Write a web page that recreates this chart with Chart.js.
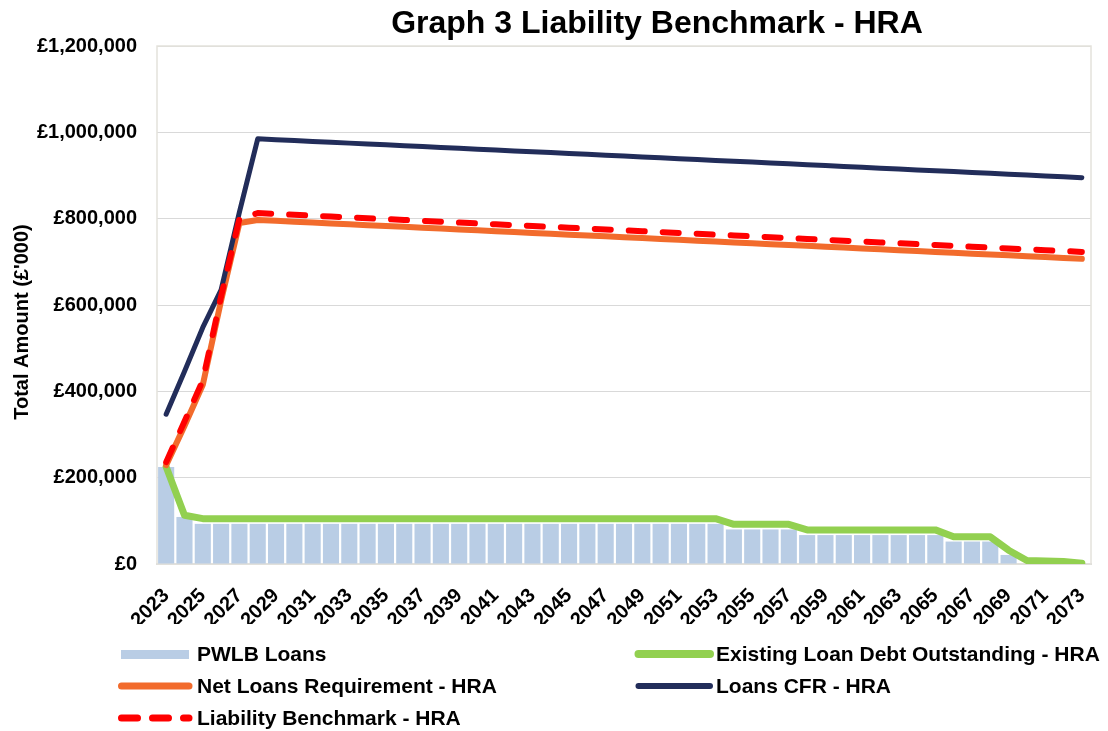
<!DOCTYPE html>
<html>
<head>
<meta charset="utf-8">
<script src="https://cdn.jsdelivr.net/npm/chart.js@4.4.1/dist/chart.umd.min.js"></script>
<style>
  body { margin: 0; background: #fff; }
  #wrap { position: relative; width: 1108px; height: 731px; }
  #chart { position: absolute; left: 0; top: 0; }
  .legText { position: absolute; font: bold 21px "Liberation Sans", Arial, sans-serif; color: #000; white-space: nowrap; line-height: 24px; }
  .legSym { position: absolute; }
</style>
</head>
<body>
<div id="wrap">
  <canvas id="chart" width="1108" height="731"></canvas>
  <div id="legend"></div>
</div>
<script>
const FONT = '"Liberation Sans", Arial, sans-serif';

const years = [
  "2023", "2024", "2025", "2026", "2027", "2028", "2029", "2030", "2031", "2032",
  "2033", "2034", "2035", "2036", "2037", "2038", "2039", "2040", "2041", "2042",
  "2043", "2044", "2045", "2046", "2047", "2048", "2049", "2050", "2051", "2052",
  "2053", "2054", "2055", "2056", "2057", "2058", "2059", "2060", "2061", "2062",
  "2063", "2064", "2065", "2066", "2067", "2068", "2069", "2070", "2071", "2072",
  "2073",
];

const pwlbLoans = [
  225000, 109000, 93000, 93000, 93000, 93000, 93000, 93000, 93000, 93000,
  93000, 93000, 93000, 93000, 93000, 93000, 93000, 93000, 93000, 93000,
  93000, 93000, 93000, 93000, 93000, 93000, 93000, 93000, 93000, 93000,
  93000, 80000, 80000, 80000, 80000, 67000, 67000, 67000, 67000, 67000,
  67000, 67000, 67000, 52000, 52000, 52000, 21000, 0, 0, 0,
  0,
];

const existingDebt = [
  225000, 113000, 105000, 105000, 105000, 105000, 105000, 105000, 105000, 105000,
  105000, 105000, 105000, 105000, 105000, 105000, 105000, 105000, 105000, 105000,
  105000, 105000, 105000, 105000, 105000, 105000, 105000, 105000, 105000, 105000,
  105000, 92000, 92000, 92000, 92000, 79000, 79000, 79000, 79000, 79000,
  79000, 79000, 79000, 63000, 63000, 63000, 32000, 8000, 7000, 6000,
  2000,
];

const netLoans = [
  229000, 320000, 415000, 610000, 790000, 797000, 795000, 793000, 791000, 789000,
  787000, 785000, 783000, 781000, 779000, 777000, 775000, 773000, 771000, 769000,
  767000, 765000, 763000, 761000, 759000, 757000, 755000, 753000, 751000, 749000,
  747000, 745000, 743000, 741000, 739000, 737000, 735000, 733000, 731000, 729000,
  727000, 725000, 723000, 721000, 719000, 717000, 715000, 713000, 711000, 709000,
  707000,
];

const loansCFR = [
  347000, 446000, 548000, 635000, 815000, 985000, 983000, 981000, 979000, 977000,
  975000, 973000, 971000, 969000, 967000, 965000, 963000, 961000, 959000, 957000,
  955000, 953000, 951000, 949000, 947000, 945000, 943000, 941000, 939000, 937000,
  935000, 933000, 931000, 929000, 927000, 925000, 923000, 921000, 919000, 917000,
  915000, 913000, 911000, 909000, 907000, 905000, 903000, 901000, 899000, 897000,
  895000,
];

const liabilityBenchmark = [
  236000, 330000, 425000, 620000, 800000, 813000, 811000, 809000, 807000, 805000,
  803000, 801000, 799000, 797000, 795000, 793000, 791000, 789000, 787000, 785000,
  783000, 781000, 779000, 777000, 775000, 773000, 771000, 769000, 767000, 765000,
  763000, 761000, 759000, 757000, 755000, 753000, 751000, 749000, 747000, 745000,
  743000, 741000, 739000, 737000, 735000, 733000, 731000, 729000, 727000, 725000,
  723000,
];

const yTicks = [0, 200000, 400000, 600000, 800000, 1000000, 1200000];

// title, y-axis caption and plot frame
const extras = {
  id: "extras",
  beforeDatasetsDraw(chart) {
    const a = chart.chartArea, ctx = chart.ctx;
    ctx.save();
    ctx.strokeStyle = "#E4E2DB";
    ctx.lineWidth = 1.5;
    ctx.strokeRect(a.left, a.top, a.right - a.left, a.bottom - a.top);
    ctx.restore();
  },
  afterDraw(chart) {
    const ctx = chart.ctx;
    ctx.save();
    ctx.fillStyle = "#000";
    ctx.textAlign = "center";
    ctx.font = "bold 32px " + FONT;
    ctx.textBaseline = "alphabetic";
    ctx.fillText("Graph 3 Liability Benchmark - HRA", 657, 33);
    ctx.font = "bold 20px " + FONT;
    ctx.textBaseline = "middle";
    ctx.translate(22, 322);
    ctx.rotate(-Math.PI / 2);
    ctx.fillText("Total Amount (£'000)", 0, 0);
    ctx.restore();
  },
};

function line(label, data, color, width, order, dash) {
  return {
    type: "line",
    label: label,
    data: data,
    borderColor: color,
    backgroundColor: color,
    borderWidth: width,
    borderDash: dash || [],
    borderCapStyle: "round",
    borderJoinStyle: "round",
    pointRadius: 0,
    fill: false,
    tension: 0,
    order: order,
  };
}

const chart = new Chart(document.getElementById("chart"), {
  data: {
    labels: years,
    datasets: [
      {
        type: "bar",
        label: "PWLB Loans",
        data: pwlbLoans,
        backgroundColor: "#B9CDE5",
        barPercentage: 0.88,
        categoryPercentage: 1.0,
        order: 5,
      },
      line("Existing Loan Debt Outstanding - HRA", existingDebt, "#92D050", 7, 4),
      line("Net Loans Requirement - HRA", netLoans, "#F26B2C", 6, 3),
      line("Loans CFR - HRA", loansCFR, "#222D5A", 5, 2),
      line("Liability Benchmark - HRA", liabilityBenchmark, "#FF0000", 6, 1, [16, 18]),
    ],
  },
  options: {
    responsive: false,
    animation: false,
    layout: { padding: { top: 46, right: 17, bottom: 107, left: 0 } },
    plugins: {
      legend: { display: false },
      tooltip: { enabled: false },
    },
    scales: {
      x: {
        offset: true,
        grid: { display: false, drawTicks: false },
        border: { display: true, color: "#D9D9D9", width: 2 },
        ticks: {
          autoSkip: false,
          maxRotation: 45,
          minRotation: 45,
          padding: 20,
          color: "#000",
          font: { family: FONT, size: 20, weight: "bold" },
          callback: function (v, i) {
            return i % 2 === 0 ? this.getLabelForValue(v) : "";
          },
        },
        afterFit: (s) => {
          s.height = 60;
          s.paddingLeft = 0;
          s.paddingRight = 0;
        },
      },
      y: {
        min: 0,
        max: 1200000,
        afterBuildTicks: (s) => { s.ticks = yTicks.map((v) => ({ value: v })); },
        grid: { color: "#D9D9D9", drawTicks: false },
        border: { display: false },
        ticks: {
          padding: 20,
          color: "#000",
          font: { family: FONT, size: 20, weight: "bold" },
          callback: (v) => "£" + v.toLocaleString("en-GB"),
        },
        afterFit: (s) => { s.width = 157; },
      },
    },
  },
  plugins: [extras],
});

// two-column legend under the plot, built from the chart's datasets
const legendSlots = [
  { x: 121, w: 68, text: 197, y: 654 },
  { x: 634, w: 80, text: 716, y: 654 },
  { x: 117, w: 76, text: 197, y: 686 },
  { x: 634, w: 80, text: 716, y: 686 },
  { x: 117, w: 76, text: 197, y: 718 },
];
const legendBox = document.getElementById("legend");
chart.data.datasets.forEach((ds, i) => {
  const slot = legendSlots[i];
  const c = document.createElement("canvas");
  c.width = slot.w;
  c.height = 12;
  c.className = "legSym";
  c.style.left = slot.x + "px";
  c.style.top = slot.y - 6 + "px";
  const g = c.getContext("2d");
  if (ds.type === "bar") {
    g.fillStyle = ds.backgroundColor;
    g.fillRect(0, 2, slot.w, 9);
  } else {
    g.strokeStyle = ds.borderColor;
    g.lineWidth = ds.borderWidth + 1;
    g.lineCap = "round";
    g.setLineDash(ds.borderDash.length ? [16, 15] : []);
    g.beginPath();
    g.moveTo(4.5, 6);
    g.lineTo(slot.w - 4, 6);
    g.stroke();
  }
  legendBox.appendChild(c);
  const t = document.createElement("div");
  t.className = "legText";
  t.style.left = slot.text + "px";
  t.style.top = slot.y - 12 + "px";
  t.textContent = ds.label;
  legendBox.appendChild(t);
});
</script>
</body>
</html>
